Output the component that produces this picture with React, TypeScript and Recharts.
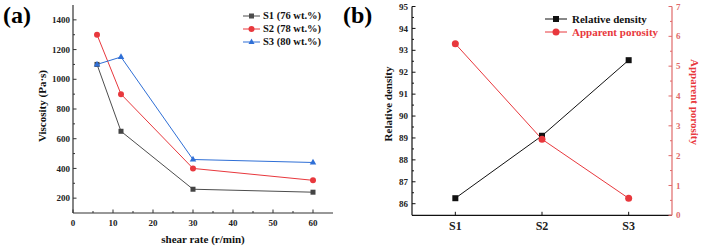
import { Label, Legend, Line, LineChart, XAxis, YAxis } from 'recharts';

// (a) viscosity vs shear rate
const shearRates = [6, 12, 30, 60];
const s1Viscosity = [1100, 650, 260, 240];
const s2Viscosity = [1300, 900, 400, 320];
const s3Viscosity = [1100, 1150, 460, 440];
const viscSeriesNames = ['S1 (76 wt.%)', 'S2 (78 wt.%)', 'S3 (80 wt.%)'];

const shearTicks = [0, 10, 20, 30, 40, 50, 60];
const shearMinorTicks = [5, 15, 25, 35, 45, 55];
const viscTicks = [200, 400, 600, 800, 1000, 1200, 1400];
const viscMinorTicks = [300, 500, 700, 900, 1100, 1300];

// (b) density / porosity per sample
const samples = ['S1', 'S2', 'S3'];
const relativeDensity = [86.25, 89.1, 92.55];
const apparentPorosity = [5.75, 2.55, 0.57];
const densitySeriesNames = ['Relative density', 'Apparent porosity'];

const densityTicks = [86, 87, 88, 89, 90, 91, 92, 93, 94, 95];
const densityMinorTicks = [86.5, 87.5, 88.5, 89.5, 90.5, 91.5, 92.5, 93.5, 94.5];
const porosityTicks = [0, 1, 2, 3, 4, 5, 6, 7];
const porosityMinorTicks = [0.5, 1.5, 2.5, 3.5, 4.5, 5.5, 6.5];

const viscData = shearRates.map((rate, i) => ({
  rate,
  s1: s1Viscosity[i],
  s2: s2Viscosity[i],
  s3: s3Viscosity[i],
}));

const densityData = samples.map((name, i) => ({
  pos: i + 1,
  name,
  density: relativeDensity[i],
  porosity: apparentPorosity[i],
}));

const FONT = '"Liberation Serif", "Times New Roman", serif';
const FRAME = '#333333';
const GRAY = '#4d4d4d';
const RED = '#e8383d';
const BLUE = '#2f6fd6';
const AXIS_RED = '#e06a6a';

const sq = (size: number, color: string) => (p: any) =>
  p.cx == null ? null : (
    <rect key={`sq-${p.index}`} x={p.cx - size / 2} y={p.cy - size / 2} width={size} height={size} fill={color} />
  );
const circ = (r: number, color: string) => (p: any) =>
  p.cx == null ? null : <circle key={`c-${p.index}`} cx={p.cx} cy={p.cy} r={r} fill={color} />;
const tri = (s: number, color: string) => (p: any) =>
  p.cx == null ? null : (
    <polygon
      key={`t-${p.index}`}
      points={`${p.cx},${p.cy - s * 0.58} ${p.cx - s / 2},${p.cy + s * 0.32} ${p.cx + s / 2},${p.cy + s * 0.32}`}
      fill={color}
    />
  );

const bottomTick =
  (major: number[], fmt: (v: number) => string, color: string, fontSize: number, dy: number) => (p: any) => {
    const v = p.payload.value;
    const isMajor = major.includes(v);
    return (
      <g>
        <line x1={p.x} x2={p.x} y1={p.y} y2={p.y - (isMajor ? 3.5 : 2)} stroke={color} />
        {isMajor && (
          <text x={p.x} y={p.y + dy} textAnchor="middle" fontFamily={FONT} fontWeight="bold" fontSize={fontSize} fill="#222">
            {fmt(v)}
          </text>
        )}
      </g>
    );
  };

const sideTick =
  (major: number[], side: 'left' | 'right', color: string, textColor: string, fontSize: number, gap: number) =>
  (p: any) => {
    const v = p.payload.value;
    const isMajor = major.includes(v);
    const dir = side === 'left' ? 1 : -1;
    return (
      <g>
        <line x1={p.x} x2={p.x + dir * (isMajor ? 3.5 : 2)} y1={p.y} y2={p.y} stroke={color} />
        {isMajor && (
          <text
            x={p.x - dir * gap}
            y={p.y}
            dy="0.35em"
            textAnchor={side === 'left' ? 'end' : 'start'}
            fontFamily={FONT}
            fontWeight="bold"
            fontSize={fontSize}
            fill={textColor}
          >
            {v}
          </text>
        )}
      </g>
    );
  };

const title =
  (text: string, cx: number, cy: number, angle: number, size: number, color = '#111') => () => (
    <text
      x={cx}
      y={cy}
      dy="0.35em"
      textAnchor="middle"
      transform={angle ? `rotate(${angle}, ${cx}, ${cy})` : undefined}
      fontFamily={FONT}
      fontWeight="bold"
      fontSize={size}
      fill={color}
    >
      {text}
    </text>
  );

const viscColors = [GRAY, RED, BLUE];
const viscMarkers = [
  (x: number, y: number, c: string) => <rect x={x - 2.5} y={y - 2.5} width={5} height={5} fill={c} />,
  (x: number, y: number, c: string) => <circle cx={x} cy={y} r={3} fill={c} />,
  (x: number, y: number, c: string) => <polygon points={`${x},${y - 3.5} ${x - 3},${y + 2} ${x + 3},${y + 2}`} fill={c} />,
];

const ViscLegend = () => (
  <div style={{ fontFamily: FONT, fontWeight: 'bold', fontSize: 10.5, color: '#111' }}>
    {viscSeriesNames.map((n, i) => (
      <div key={n} style={{ display: 'flex', alignItems: 'center', height: 12.8 }}>
        <svg width={17} height={10}>
          <line x1={0} x2={17} y1={5} y2={5} stroke={viscColors[i]} />
          {viscMarkers[i](8.5, 5, viscColors[i])}
        </svg>
        <span style={{ marginLeft: 3, whiteSpace: 'nowrap' }}>{n}</span>
      </div>
    ))}
  </div>
);

const DensityLegend = () => (
  <div style={{ fontFamily: FONT, fontWeight: 'bold', fontSize: 11 }}>
    {densitySeriesNames.map((n, i) => (
      <div key={n} style={{ display: 'flex', alignItems: 'center', height: 13 }}>
        <svg width={22} height={10}>
          <line x1={0} x2={22} y1={5} y2={5} stroke={i === 0 ? '#111' : RED} />
          {i === 0 ? (
            <rect x={8} y={2} width={6} height={6} fill="#111" />
          ) : (
            <circle cx={11} cy={5} r={3.5} fill={RED} />
          )}
        </svg>
        <span style={{ marginLeft: 5, whiteSpace: 'nowrap', color: i === 0 ? '#111' : RED }}>{n}</span>
      </div>
    ))}
  </div>
);

function ViscosityChart() {
  return (
    <LineChart width={350} height={250} data={viscData} margin={{ top: 5, right: 17, left: 0, bottom: 0 }}>
      <XAxis
        dataKey="rate"
        type="number"
        domain={[0, 65]}
        ticks={[...shearTicks, ...shearMinorTicks].sort((a, b) => a - b)}
        interval={0}
        height={37}
        tickSize={0}
        tickMargin={0}
        tickLine={false}
        axisLine={{ stroke: FRAME, strokeWidth: 1.2 }}
        tick={bottomTick(shearTicks, (v) => String(v), FRAME, 9, 12.9)}
      >
        <Label content={title('shear rate (r/min)', 203, 239, 0, 11)} />
      </XAxis>
      <XAxis xAxisId="top" orientation="top" type="number" domain={[0, 65]} height={0} tick={false} tickLine={false} axisLine={{ stroke: FRAME, strokeWidth: 1.2 }} />
      <YAxis
        type="number"
        domain={[100, 1500]}
        ticks={[...viscTicks, ...viscMinorTicks].sort((a, b) => a - b)}
        interval={0}
        width={73}
        tickSize={0}
        tickMargin={0}
        tickLine={false}
        axisLine={{ stroke: FRAME, strokeWidth: 1.2 }}
        tick={sideTick(viscTicks, 'left', FRAME, '#222', 9, 3)}
      >
        <Label content={title('Viscosity (Pa·s)', 42, 106, -90, 11)} />
      </YAxis>
      <YAxis yAxisId="frame" orientation="right" type="number" domain={[0, 1]} width={0} tick={false} tickLine={false} axisLine={{ stroke: FRAME, strokeWidth: 1.2 }} />
      <Legend
        layout="vertical"
        align="center"
        verticalAlign="middle"
        content={ViscLegend}
        wrapperStyle={{ left: 243, top: 9.6, width: 'auto' }}
      />
      <Line dataKey="s1" stroke={GRAY} strokeWidth={1} dot={sq(5, '#444')} isAnimationActive={false} />
      <Line dataKey="s2" stroke={RED} strokeWidth={1} dot={circ(3, RED)} isAnimationActive={false} />
      <Line dataKey="s3" stroke={BLUE} strokeWidth={1} dot={tri(6.5, BLUE)} isAnimationActive={false} />
    </LineChart>
  );
}

function DensityChart() {
  return (
    <LineChart width={350} height={250} data={densityData} margin={{ top: 6.5, right: 0, left: 0, bottom: 0 }}>
      <XAxis
        dataKey="pos"
        type="number"
        domain={[0.5, 3.5]}
        ticks={[1, 2, 3]}
        interval={0}
        height={34.7}
        tickSize={0}
        tickMargin={0}
        tickLine={false}
        axisLine={{ stroke: '#111', strokeWidth: 1.2 }}
        tick={bottomTick([1, 2, 3], (v) => samples[v - 1], '#111', 12, 14.7)}
      />
      <XAxis xAxisId="top" orientation="top" type="number" domain={[0.5, 3.5]} height={0} tick={false} tickLine={false} axisLine={{ stroke: '#111', strokeWidth: 1.2 }} />
      <YAxis
        yAxisId="rd"
        type="number"
        domain={[85.47, 95]}
        ticks={[...densityTicks, ...densityMinorTicks].sort((a, b) => a - b)}
        interval={0}
        width={57}
        tickSize={0}
        tickMargin={0}
        tickLine={false}
        axisLine={{ stroke: '#111', strokeWidth: 1.2 }}
        tick={sideTick(densityTicks, 'left', '#111', '#222', 9, 4)}
      >
        <Label content={title('Relative density', 33, 104, -90, 11)} />
      </YAxis>
      <YAxis
        yAxisId="ap"
        orientation="right"
        type="number"
        domain={[0, 7]}
        ticks={[...porosityTicks, ...porosityMinorTicks].sort((a, b) => a - b)}
        interval={0}
        width={33}
        tickSize={0}
        tickMargin={0}
        tickLine={false}
        axisLine={{ stroke: AXIS_RED, strokeWidth: 1.2 }}
        tick={sideTick(porosityTicks, 'right', AXIS_RED, AXIS_RED, 9, 4)}
      >
        <Label content={title('Apparent porosity', 340, 102, 90, 11, RED)} />
      </YAxis>
      <Legend
        layout="vertical"
        align="center"
        verticalAlign="middle"
        content={DensityLegend}
        wrapperStyle={{ left: 190, top: 12.5, width: 'auto' }}
      />
      <Line yAxisId="rd" dataKey="density" stroke="#111" strokeWidth={1} dot={sq(6, '#111')} isAnimationActive={false} />
      <Line yAxisId="ap" dataKey="porosity" stroke={RED} strokeWidth={1} dot={circ(3.5, RED)} isAnimationActive={false} />
    </LineChart>
  );
}

export default function App() {
  return (
    <div style={{ position: 'absolute', left: 0, top: 0, width: 705, height: 250, background: '#fff' }}>
      <div style={{ position: 'absolute', left: 0, top: 0 }}>
        <ViscosityChart />
      </div>
      <div style={{ position: 'absolute', left: 355, top: 0 }}>
        <DensityChart />
      </div>
      <div style={{ position: 'absolute', left: 3, top: 0, fontFamily: FONT, fontWeight: 'bold', fontSize: 24, lineHeight: '30px' }}>
        (a)
      </div>
      <div style={{ position: 'absolute', left: 343, top: 0, fontFamily: FONT, fontWeight: 'bold', fontSize: 24, lineHeight: '30px' }}>
        (b)
      </div>
    </div>
  );
}
